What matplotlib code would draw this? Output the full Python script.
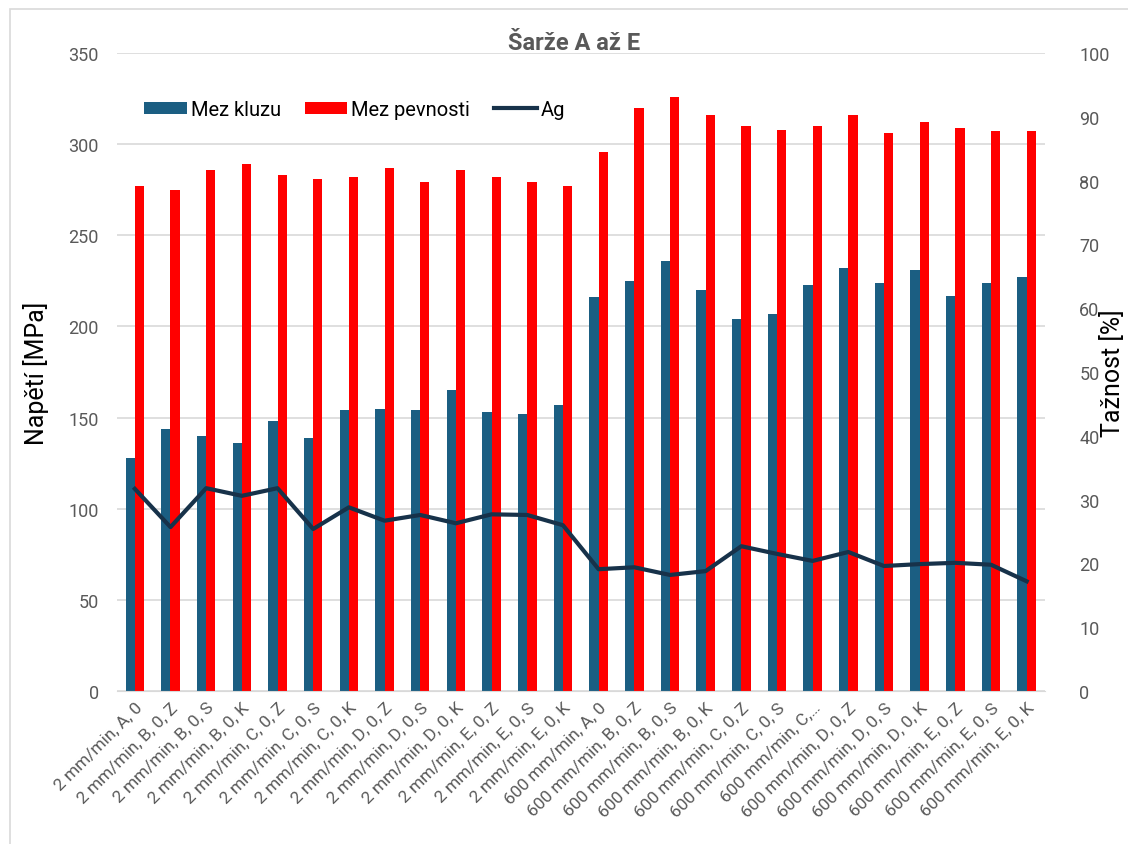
import numpy as np
import matplotlib
matplotlib.use("Agg")
import matplotlib.pyplot as plt
from matplotlib.patches import Rectangle

plt.rcParams['font.family'] = ['Roboto', 'DejaVu Sans']

# categories (x tick labels)
labels = [
    "2 mm/min, A, 0", "2 mm/min, B, 0, Z", "2 mm/min, B, 0, S", "2 mm/min, B, 0, K",
    "2 mm/min, C, 0, Z", "2 mm/min, C, 0, S", "2 mm/min, C, 0, K", "2 mm/min, D, 0, Z",
    "2 mm/min, D, 0, S", "2 mm/min, D, 0, K", "2 mm/min, E, 0, Z", "2 mm/min, E, 0, S",
    "2 mm/min, E, 0, K",
    "600 mm/min, A, 0", "600 mm/min, B, 0, Z", "600 mm/min, B, 0, S", "600 mm/min, B, 0, K",
    "600 mm/min, C, 0, Z", "600 mm/min, C, 0, S", "600 mm/min, C,\u2026", "600 mm/min, D, 0, Z",
    "600 mm/min, D, 0, S", "600 mm/min, D, 0, K", "600 mm/min, E, 0, Z", "600 mm/min, E, 0, S",
    "600 mm/min, E, 0, K",
]

# Mez kluzu [MPa]
mez_kluzu = [128, 144, 140, 136, 148, 139, 154, 155, 154, 165, 153, 152, 157,
             216, 225, 236, 220, 204, 207, 223, 232, 224, 231, 217, 224, 227]
# Mez pevnosti [MPa]
mez_pevnosti = [277, 275, 286, 289, 283, 281, 282, 287, 279, 286, 282, 279, 277,
                296, 320, 326, 316, 310, 308, 310, 316, 306, 312, 309, 307, 307]
# Ag [%]
ag = [31.7, 25.7, 31.8, 30.6, 31.8, 25.4, 28.8, 26.7, 27.6, 26.3, 27.7, 27.6, 26.0,
      19.1, 19.4, 18.2, 18.8, 22.7, 21.5, 20.4, 21.8, 19.6, 19.9, 20.1, 19.8, 17.2]

blue = "#1b5e82"
red = "#ff0000"
navy = "#17324a"
gray = "#595959"

fig = plt.figure(figsize=(11.28, 8.45), dpi=100)
ax = fig.add_axes([0.1037, 0.181, 0.8223, 0.755])
ax2 = ax.twinx()

x = np.arange(len(labels))
w = 0.26
ax.bar(x - w / 2, mez_kluzu, w, color=blue, label="Mez kluzu", zorder=2)
ax.bar(x + w / 2, mez_pevnosti, w, color=red, label="Mez pevnosti", zorder=2)
ax2.plot(x, ag, color=navy, lw=3, label="Ag", zorder=3)

ax.set_xlim(-0.5, len(labels) - 0.5)
ax.set_ylim(0, 350)
ax.set_yticks(range(0, 351, 50))
ax2.set_ylim(0, 100)
ax2.set_yticks(range(0, 101, 10))

ax.yaxis.grid(True, color="#d9d9d9", lw=1.2, zorder=0)
ax.set_axisbelow(True)
for a in (ax, ax2):
    for s in a.spines.values():
        s.set_visible(False)
    a.tick_params(axis="y", length=0, labelsize=13, labelcolor=gray)
ax.tick_params(axis="y", pad=13)
ax2.tick_params(axis="y", pad=25)
ax.spines["bottom"].set_visible(True)
ax.spines["bottom"].set_color("#d9d9d9")

ax.set_xticks(x)
ax.set_xticklabels(labels, rotation=45, ha="right", rotation_mode="anchor",
                   fontsize=12.5, color=gray)
ax.tick_params(axis="x", length=0, pad=6)

ax.set_ylabel("Napětí [MPa]", fontsize=18, labelpad=14)
ax2.set_ylabel("Tažnost [%]", fontsize=18)
ax2.yaxis.set_label_coords(1.06, 0.5)

fig.text(0.509, 0.948, "Šarže A až E", ha="center", va="center",
         fontsize=17, fontweight="bold", color=gray)

h1, l1 = ax.get_legend_handles_labels()
h2, l2 = ax2.get_legend_handles_labels()
ax.legend(h1 + h2, l1 + l2, loc="upper left", bbox_to_anchor=(0.01, 0.955),
          ncol=3, frameon=False, fontsize=14.5, handlelength=2.1, handleheight=0.55,
          handletextpad=0.2, columnspacing=1.2)

fig.patches.append(Rectangle((0.009, -0.01), 1.2, 0.998, transform=fig.transFigure,
                             fill=False, edgecolor="#d9d9d9", lw=1.2))

fig.savefig("out.png", dpi=100)
